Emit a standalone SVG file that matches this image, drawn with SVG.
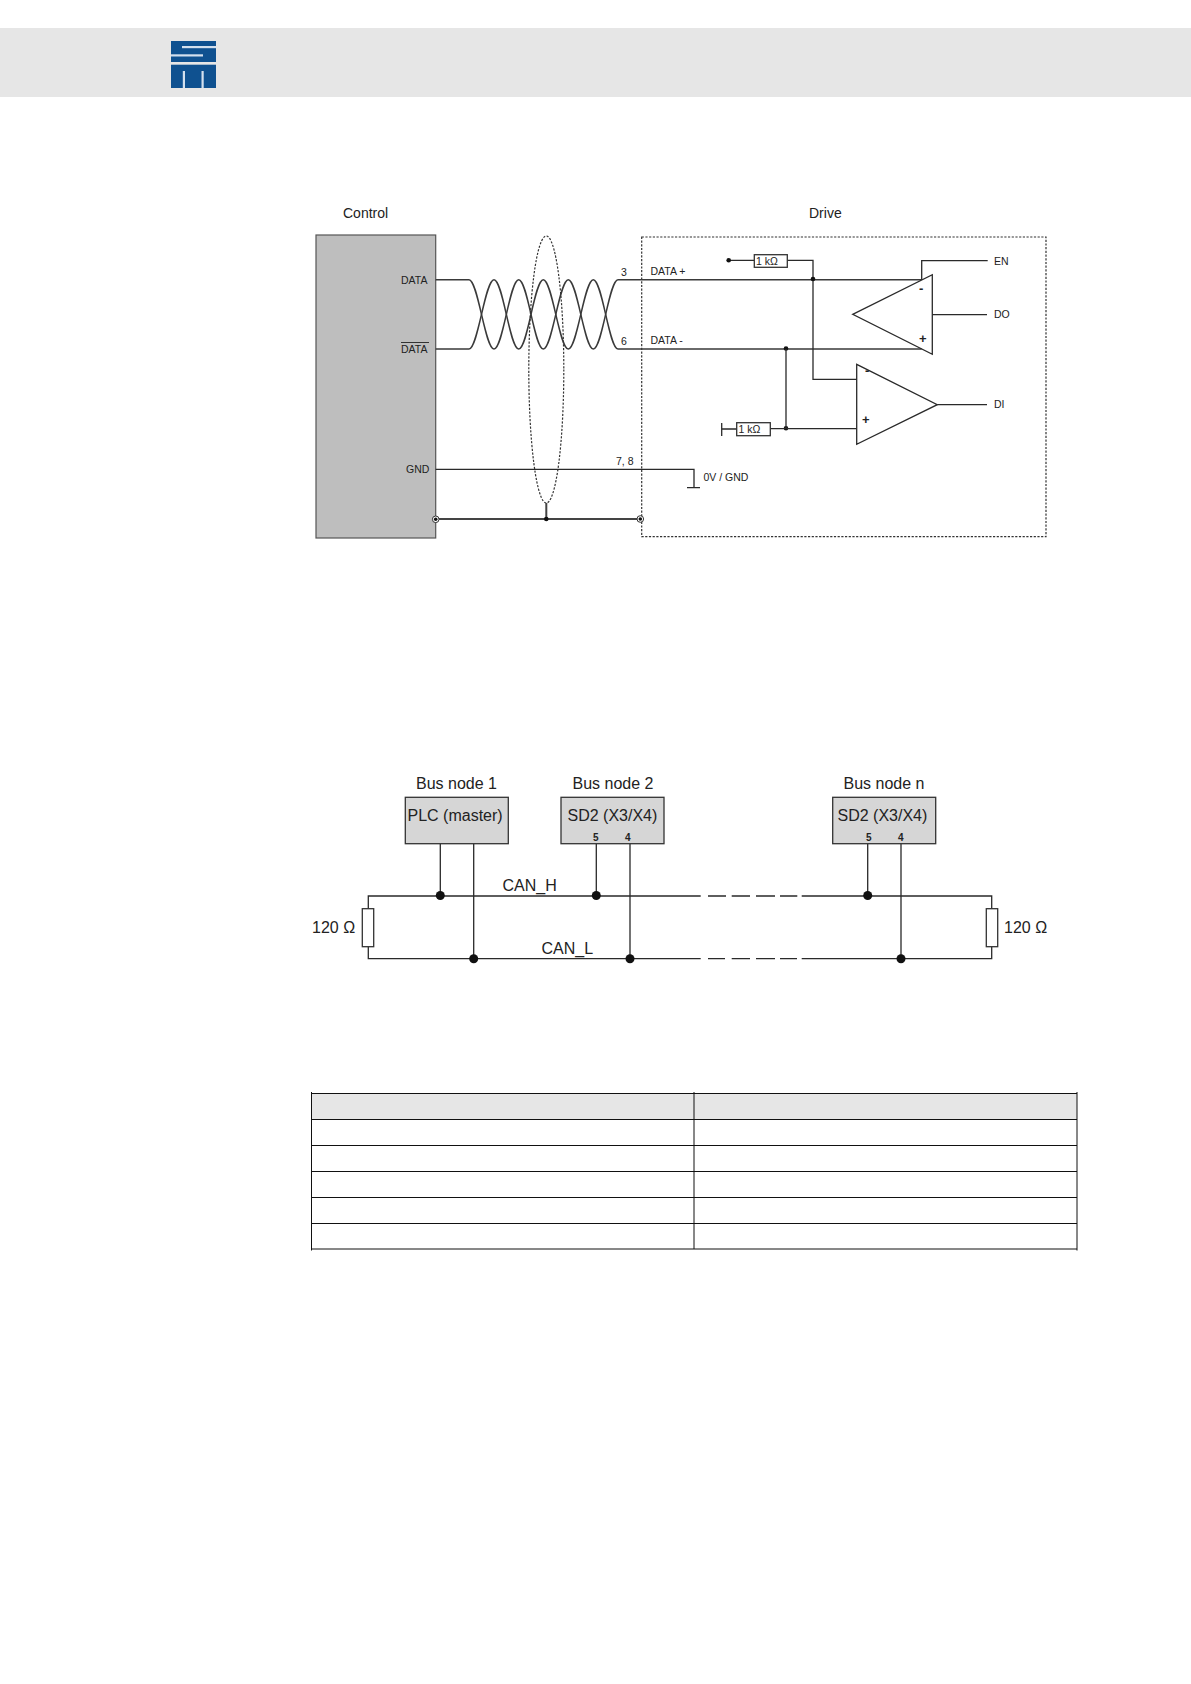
<svg xmlns="http://www.w3.org/2000/svg" width="1191" height="1684" viewBox="0 0 1191 1684">
<style>
text{font-family:"Liberation Sans",Arial,sans-serif;fill:#222}
.w{fill:none;stroke:#2a2a2a;stroke-width:1.3}
.t{fill:none;stroke:#3a3a3a;stroke-width:1.5}
.h{fill:none;stroke:#444;stroke-width:2}
.d{fill:none;stroke:#333;stroke-width:1.2;stroke-dasharray:2.2 1.5}
.s{font-size:10.500px}.m{font-size:14px}.b{font-size:16px}
.r{fill:#fff;stroke:#333;stroke-width:1.300}
.g{fill:#d6d6d6;stroke:#333;stroke-width:1.300}
.l{stroke:#111;stroke-width:1;fill:none}
.p{font-size:13px;font-weight:bold}
.n{font-size:10px;font-weight:bold}
.k{fill:#d3e0ee}
</style>
<g id="header"><rect x="0" y="28" width="1191" height="69" fill="#e6e6e6"/>
<g id="logo"><rect x="171" y="41" width="45" height="21" fill="#0f5190"/><rect x="171" y="64.700" width="45" height="23.300" fill="#0f5190"/>
<rect x="182" y="46" width="34" height="2.200" class="k"/><rect x="171" y="54.300" width="32" height="2.200" class="k"/>
<rect x="182.800" y="71" width="2.200" height="17" class="k"/><rect x="201.500" y="71" width="2.200" height="17" class="k"/></g></g>

<g id="control"><rect x="316" y="235" width="119.700" height="303" fill="#bebebe" stroke="#555" stroke-width="1.2"/>
<text x="343" y="218" class="m">Control</text>
<text x="401" y="284" class="s">DATA</text><text x="401" y="353" class="s">DATA</text>
<line x1="401" y1="342.500" x2="429" y2="342.500" stroke="#333"/>
<text x="406" y="473" class="s">GND</text></g>
<text x="809" y="218" class="m">Drive</text>

<g id="drive"><rect x="641.700" y="237" width="404.300" height="299.700" class="d"/>
<text x="621" y="276" class="s">3</text><text x="621" y="345" class="s">6</text><text x="616" y="465" class="s">7, 8</text>
<text x="650.500" y="275" class="s">DATA +</text><text x="650.500" y="344" class="s">DATA -</text>
<text x="703.500" y="481" class="s">0V / GND</text>
<text x="994" y="265" class="s">EN</text><text x="994" y="318" class="s">DO</text><text x="994" y="408" class="s">DI</text></g>

<g id="connectors">
<path class="t" d="M435.700 279.700H469C478 279.700 485 349 494 349S509.700 279.700 518.700 279.700S534.300 349 543.300 349S559.300 279.700 568.300 279.700S584.300 349 593.300 349S609 279.700 618 279.700H921"/>
<path class="t" d="M435.700 349H469C478 349 485 279.700 494 279.700S509.700 349 518.700 349S534.300 279.700 543.300 279.700S559.300 349 568.300 349S584.300 279.700 593.300 279.700S609 349 618 349H921.700"/>
<ellipse cx="546.300" cy="369.500" rx="17.500" ry="133.500" class="d"/>
<path class="w" d="M435.700 469.300H694V487.500M687 487.700H700"/>
<path class="h" d="M546.300 503V519M436 519H640"/>
<circle cx="435.700" cy="519.300" r="3.300" fill="#fff" stroke="#333"/><circle cx="435.700" cy="519.300" r="1.800" fill="#111"/>
<circle cx="640.300" cy="519" r="3.300" fill="#fff" stroke="#333"/><circle cx="640.300" cy="519" r="1.800" fill="#111"/>
<circle cx="546.300" cy="519" r="2.300" fill="#111"/>
<path class="w" d="M728.700 260.300H754.300M787.300 260.300H813V379.300H856.700"/>
<circle cx="728.700" cy="260.300" r="2.300" fill="#111"/>
<circle cx="813" cy="279" r="2.300" fill="#111"/>
<circle cx="786" cy="348.500" r="2.300" fill="#111"/>
<circle cx="786" cy="428.300" r="2.300" fill="#111"/>
<path class="w" d="M786 349V428.300M770.300 428.700H856.700M721.700 429H736.700M721.700 423V436"/>
<path class="w" d="M921.700 280V260.700H987.700M932.300 314.700H987M937.300 404.700H987"/>
</g>
<g id="r1"><rect x="754.300" y="254.700" width="33" height="12.600" class="r"/><text x="756" y="264.500" class="s">1 kΩ</text></g>
<g id="r2"><rect x="736.700" y="422.700" width="33.600" height="13" class="r"/><text x="738.500" y="432.500" class="s">1 kΩ</text></g>
<g id="opamp1"><path class="w" d="M852.700 314.300L932.300 274.700V354.300Z"/><text x="919" y="293" class="p">-</text><text x="919" y="343" class="p">+</text></g>
<g id="opamp2"><path class="w" d="M856.700 364.300V444.300L937.300 404.700Z"/><text x="865" y="375" class="p">-</text><text x="862" y="423.500" class="p">+</text></g>

<g id="bus-connectors">
<path class="w" d="M700.700 896H368.300V908.700M368.300 946.700V958.700H700.700"/>
<path class="w" d="M708 896H726M731.700 896H750M756 896H775M780 896H797.300M801.700 896H991.700V908.700M991.700 946.700V958.700H801.700M797 958.700H780M775 958.700H756M750 958.700H731.700M725 958.700H708"/>
<path class="w" d="M440.300 843.700V896M473.700 843.700V958.700M596.300 843.700V896M630 843.700V958.700M867.700 843.700V896M901 843.700V958.700"/>
<g fill="#111"><circle cx="440.300" cy="895.500" r="4.500"/><circle cx="473.700" cy="958.700" r="4.500"/><circle cx="596.300" cy="895.500" r="4.500"/><circle cx="630" cy="958.700" r="4.500"/><circle cx="867.700" cy="895.500" r="4.500"/><circle cx="901" cy="958.700" r="4.500"/></g>
<text x="502.500" y="891" class="b">CAN_H</text><text x="541.500" y="954" class="b">CAN_L</text>
</g>
<g id="bus1"><rect x="405.300" y="797.300" width="103" height="46.400" class="g"/><text x="416" y="789" class="b">Bus node 1</text><text x="407.500" y="821" class="b">PLC (master)</text></g>
<g id="bus2"><rect x="561" y="797.300" width="103" height="46.400" class="g"/><text x="572.500" y="789" class="b">Bus node 2</text><text x="567.500" y="821" class="b">SD2 (X3/X4)</text><text x="593" y="841" class="n">5</text><text x="625" y="841" class="n">4</text></g>
<g id="busn"><rect x="832.700" y="797.300" width="103" height="46.400" class="g"/><text x="843.500" y="789" class="b">Bus node n</text><text x="837.500" y="821" class="b">SD2 (X3/X4)</text><text x="866" y="841" class="n">5</text><text x="898" y="841" class="n">4</text></g>
<g id="rl"><rect x="362.300" y="908.700" width="11.400" height="38" class="r"/><text x="312" y="933" class="b">120 Ω</text></g>
<g id="rr"><rect x="986.300" y="908.700" width="11.400" height="38" class="r"/><text x="1004" y="933" class="b">120 Ω</text></g>

<g id="table"><rect x="311.500" y="1093.500" width="765.500" height="26" fill="#e6e6e6"/>
<path class="l" d="M311.500 1093.500H1077M311.500 1119.500H1077M311.500 1145.500H1077M311.500 1171.500H1077M311.500 1197.500H1077M311.500 1223.500H1077M311.500 1249H1077M311.500 1092V1250.500M694 1092V1249M1077 1092V1250.500"/></g>
</svg>
